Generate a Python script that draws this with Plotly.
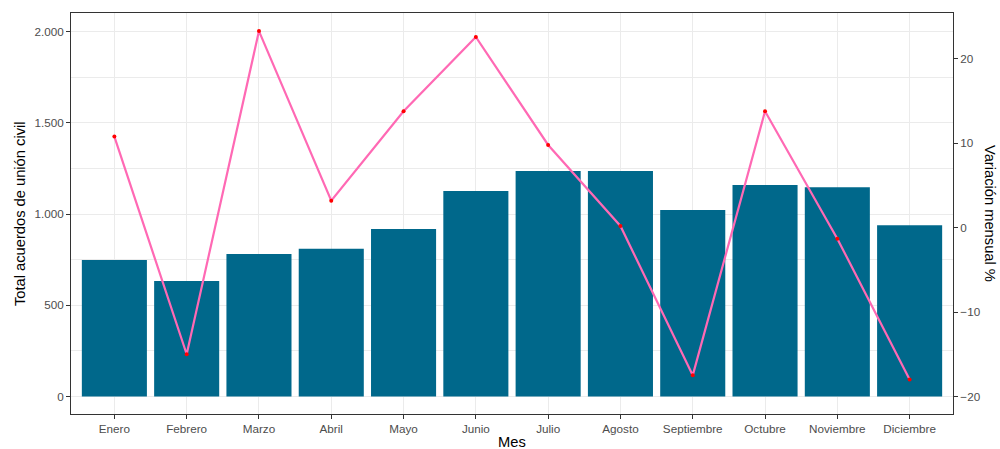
import plotly.graph_objects as go

meses = ["Enero", "Febrero", "Marzo", "Abril", "Mayo", "Junio", "Julio",
         "Agosto", "Septiembre", "Octubre", "Noviembre", "Diciembre"]
total_acuerdos = [748, 633, 781, 809, 918, 1126, 1236, 1236, 1022, 1159, 1147, 939]
variacion_pct = [10.8, -15.0, 23.3, 3.2, 13.8, 22.6, 9.8, 0.2, -17.5, 13.8, -1.3, -18.0]

left_ticks = [0, 500, 1000, 1500, 2000]
right_ticks = [-20, -10, 0, 10, 20]

FONT = "Liberation Sans, Arial, Helvetica, sans-serif"
TICK_COLOR = "#4D4D4D"
GRID = "#EBEBEB"
BORDER = "#333333"

fig = go.Figure()
fig.add_trace(go.Bar(
    x=meses, y=total_acuerdos, marker=dict(color="#00688B", line=dict(width=0)),
    yaxis="y", showlegend=False, hoverinfo="x+y"))
fig.add_trace(go.Scatter(
    x=meses, y=variacion_pct, yaxis="y2", mode="lines+markers",
    line=dict(color="#FF69B4", width=2.2),
    marker=dict(color="#FF0000", size=4),
    showlegend=False))

fig.update_layout(
    width=1000, height=449,
    margin=dict(l=70.7, r=46.7, t=12.7, b=34.7),
    paper_bgcolor="white", plot_bgcolor="white",
    separators=",.",
    bargap=0.1,
    font=dict(family=FONT, size=12, color=TICK_COLOR),
    xaxis=dict(
        type="category", range=[-0.6, 11.6],
        showgrid=True, gridcolor=GRID, gridwidth=1.1,
        showline=True, mirror=True, linecolor=BORDER, linewidth=1,
        ticks="outside", ticklen=4, tickcolor=BORDER, tickwidth=1,
        tickfont=dict(family=FONT, size=11.7, color=TICK_COLOR),
        zeroline=False, automargin=False,
    ),
    yaxis=dict(
        range=[-96.4, 2102], tickvals=left_ticks, tickformat=",d",
        showgrid=True, gridcolor=GRID, gridwidth=1.1,
        minor=dict(dtick=250, tick0=0, showgrid=True, gridcolor=GRID, gridwidth=0.55, ticks=""),
        showline=True, mirror=True, linecolor=BORDER, linewidth=1,
        ticks="outside", ticklen=4, tickcolor=BORDER, tickwidth=1,
        tickfont=dict(family=FONT, size=11.7, color=TICK_COLOR),
        zeroline=False, automargin=False,
    ),
    yaxis2=dict(
        range=[-22.08, 25.44], tickvals=right_ticks, overlaying="y", side="right",
        showgrid=False, showline=False, zeroline=False,
        ticks="outside", ticklen=4, tickcolor=BORDER, tickwidth=1,
        tickfont=dict(family=FONT, size=11.7, color=TICK_COLOR),
        automargin=False,
    ),
    annotations=[
        dict(text="Total acuerdos de unión civil", xref="paper", yref="paper",
             x=0, y=0.5, xshift=-51.5, textangle=-90, showarrow=False,
             xanchor="center", yanchor="middle",
             font=dict(family=FONT, size=14.7, color="black")),
        dict(text="Variación mensual %", xref="paper", yref="paper",
             x=1, y=0.5, xshift=37.5, textangle=90, showarrow=False,
             xanchor="center", yanchor="middle",
             font=dict(family=FONT, size=14.7, color="black")),
        dict(text="Mes", xref="paper", yref="paper",
             x=0.5, y=0, yshift=-27.5, showarrow=False,
             xanchor="center", yanchor="middle",
             font=dict(family=FONT, size=14.7, color="black")),
    ],
)

fig.write_html("out.html",
               config={"displayModeBar": False},
               post_script="document.body.style.margin='0';document.body.style.overflow='hidden';")
